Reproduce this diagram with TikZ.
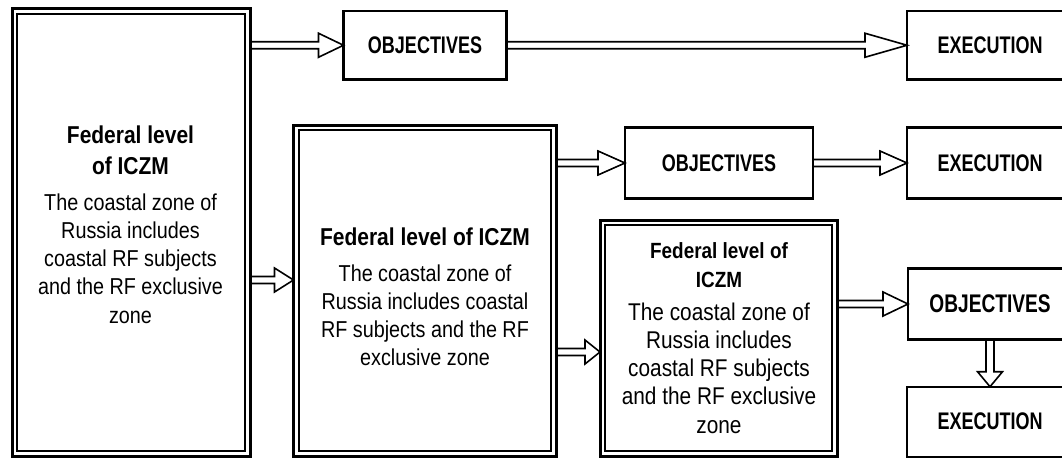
\documentclass[tikz,border=0pt]{standalone}
\usepackage{fontspec}
\setmainfont{Liberation Sans}[FakeStretch=0.86]
\newfontfamily\capsfont{Liberation Sans}[FakeStretch=0.75]
\usetikzlibrary{calc}
\tikzset{
  bigbox/.style={draw, line width=3pt, inner sep=0pt, outer sep=0pt},
  innerline/.style={line width=1.7pt},
  smallbox/.style={draw, line width=2.2pt, inner sep=0pt, outer sep=0pt,
     font={\capsfont\bfseries\fontsize{24}{28}\selectfont}},
  titletext/.style={align=center, inner sep=0pt, anchor=north,
     font={\bfseries\fontsize{24.4}{31}\selectfont}},
  bodytext/.style={align=center, inner sep=0pt, anchor=north,
     font={\fontsize{23}{28.3}\selectfont}},
  arrline/.style={draw, line width=1.6pt, line join=miter},
}
\newcommand\harrow[3][25]{%
  \draw[arrline] let \p1=(#2), \p2=(#3) in
   (\x1,\y1+3.5pt) -- (\x2-#1pt,\y1+3.5pt) -- (\x2-#1pt,\y1+12pt) -- (\x2,\y1)
   -- (\x2-#1pt,\y1-12pt) -- (\x2-#1pt,\y1-3.5pt) -- (\x1,\y1-3.5pt);}
\newcommand\varrow[3][15]{%
  \draw[arrline] let \p1=(#2), \p2=(#3) in
   (\x1-4pt,\y1) -- (\x1-4pt,\y2+#1pt) -- (\x1-12.5pt,\y2+#1pt) -- (\x1,\y2)
   -- (\x1+12.5pt,\y2+#1pt) -- (\x1+4pt,\y2+#1pt) -- (\x1+4pt,\y1);}
\newcommand\dblinner[1]{%
  \draw[innerline] ([shift={(5.3,5.3)}]#1.north west) rectangle ([shift={(-5.3,-5.3)}]#1.south east);}
\begin{document}
\begin{tikzpicture}[x=1pt,y=-1pt]
\useasboundingbox (0,0) rectangle (1062,459);
\clip (0,0) rectangle (1062,459);
% big boxes
\node[bigbox, minimum width=238pt, minimum height=448pt] (b1) at (131,232.5) {};
\dblinner{b1}
\node[bigbox, minimum width=263pt, minimum height=331.5pt] (b2) at (425,290.75) {};
\dblinner{b2}
\node[bigbox, minimum width=237pt, minimum height=236.5pt] (b3) at (718.5,338.25) {};
\dblinner{b3}
% texts in big boxes
\node[titletext] (t1) at (130.5,125.2) {Federal level\\of ICZM};
\node[bodytext] (d1) at (130.5,193.2) {The coastal zone of\\Russia includes\\coastal RF subjects\\and the RF exclusive\\zone};
\node[titletext] (t2) at (425,227.2) {Federal level of ICZM};
\node[bodytext] (d2) at (425,264.2) {The coastal zone of\\Russia includes coastal\\RF subjects and the RF\\exclusive zone};
\node[titletext, font={\bfseries\fontsize{22}{29}\selectfont}] (t3) at (719,242) {Federal level of\\ICZM};
\node[bodytext, font={\fontsize{24.2}{28.3}\selectfont}] (d3) at (719,302.3) {The coastal zone of\\Russia includes\\coastal RF subjects\\and the RF exclusive\\zone};
% small boxes
\node[smallbox, minimum width=163pt, minimum height=68.5pt] (o1) at (425,45.25) {OBJECTIVES};
\node[smallbox, minimum width=166pt, minimum height=68.5pt] (e1) at (990,45.25) {EXECUTION};
\node[smallbox, minimum width=188pt, minimum height=71pt] (o2) at (719,163) {OBJECTIVES};
\node[smallbox, minimum width=166pt, minimum height=71pt] (e2) at (990,163) {EXECUTION};
\node[smallbox, minimum width=164pt, minimum height=71pt,
      font={\capsfont\bfseries\fontsize{25.5}{28}\selectfont}] (o3) at (990,304) {OBJECTIVES};
\node[smallbox, minimum width=166pt, minimum height=70pt] (e3) at (990,421.7) {EXECUTION};
% helper coordinates
\coordinate (c12) at (0,280);
\coordinate (c23) at (0,352);
% arrows
\harrow[25]{b1.east |- o1.west}{o1.west}
\harrow[42]{o1.east}{e1.west}
\harrow[19]{b1.east |- c12}{b2.west |- c12}
\harrow[27]{b2.east |- o2.west}{o2.west}
\harrow[27]{o2.east}{e2.west}
\harrow[15]{b2.east |- c23}{b3.west |- c23}
\harrow[25]{b3.east |- o3.west}{o3.west}
\varrow[15]{o3.south}{e3.north}
\end{tikzpicture}
\end{document}
